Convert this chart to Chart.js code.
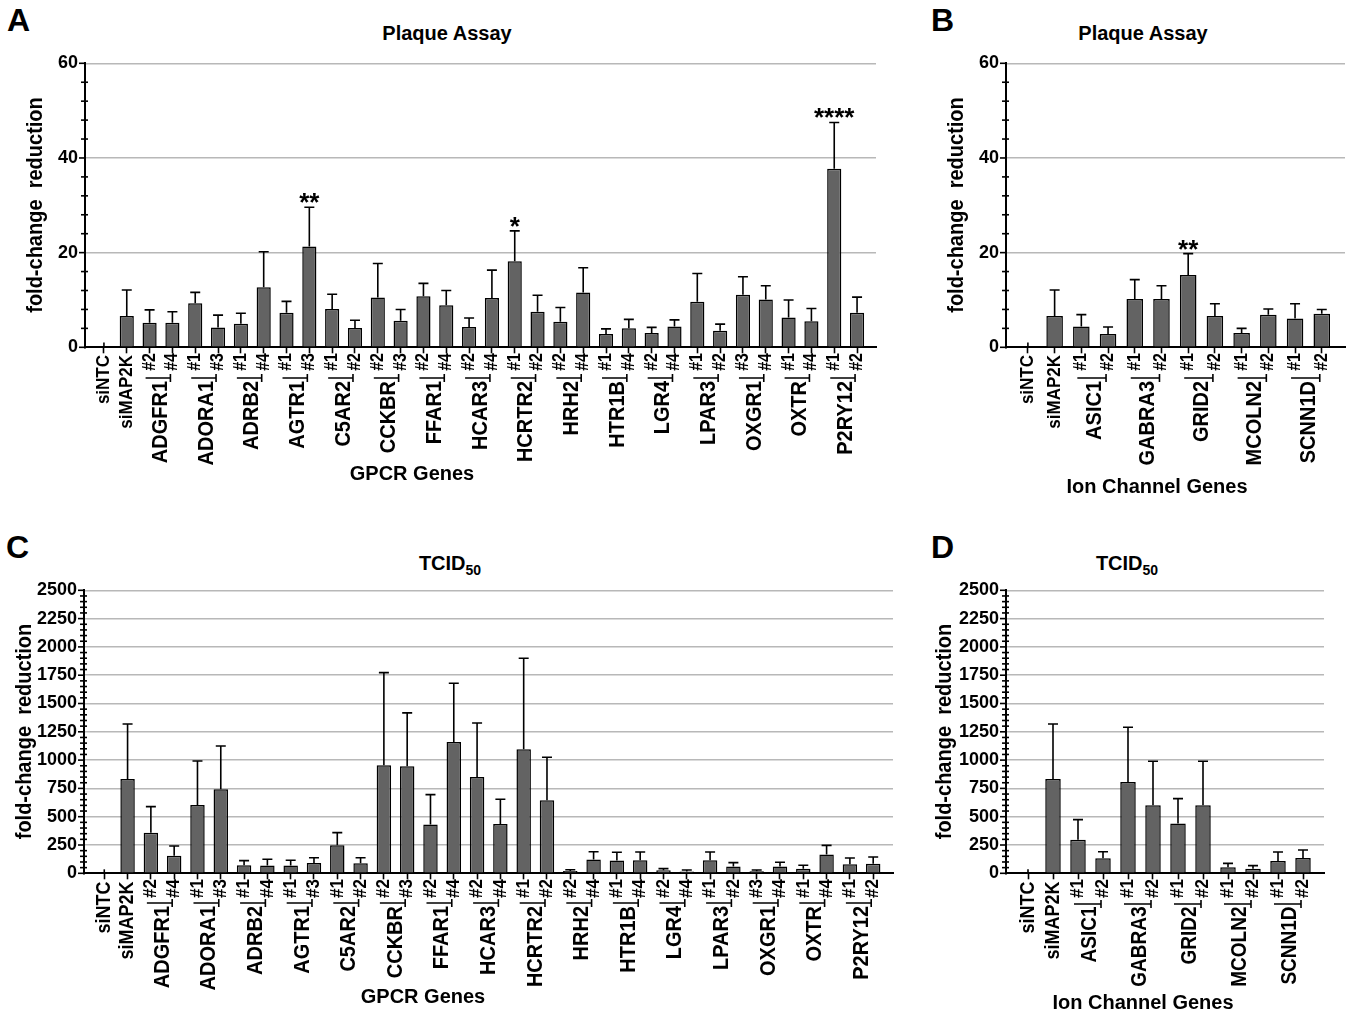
<!DOCTYPE html>
<html>
<head>
<meta charset="utf-8">
<script src="https://cdn.jsdelivr.net/npm/chart.js@4.4.1/dist/chart.umd.min.js"></script>
<style>
  body { margin: 0; background: #fff; width: 1357px; height: 1025px; position: relative; overflow: hidden;
         font-family: "Liberation Sans", Arial, sans-serif; color: #000; }
  .box { position: absolute; }
  .letter { position: absolute; font-weight: bold; font-size: 32px; line-height: 32px; }
  .title { position: absolute; font-weight: bold; font-size: 20px; line-height: 20px; transform: translateX(-50%); white-space: nowrap; }
  .title sub { font-size: 14px; vertical-align: -5px; line-height: 0; }
</style>
</head>
<body>
<div class="letter" style="left:7px;top:4px">A</div>
<div class="letter" style="left:931px;top:4px">B</div>
<div class="letter" style="left:6px;top:531px">C</div>
<div class="letter" style="left:931px;top:531px">D</div>
<div class="title" style="left:447px;top:23px">Plaque Assay</div>
<div class="title" style="left:1143px;top:23px">Plaque Assay</div>
<div class="title" style="left:450px;top:553px">TCID<sub>50</sub></div>
<div class="title" style="left:1127px;top:553px">TCID<sub>50</sub></div>

<div class="box" style="left:0;top:0"><canvas id="chartA" width="900" height="500"></canvas></div>
<div class="box" style="left:900px;top:0"><canvas id="chartB" width="457" height="500"></canvas></div>
<div class="box" style="left:0;top:520px"><canvas id="chartC" width="900" height="505"></canvas></div>
<div class="box" style="left:900px;top:520px"><canvas id="chartD" width="457" height="505"></canvas></div>

<script>
// x categories
const controls = ['siNTC', 'siMAP2K'];
const gpcrGenes = ['ADGFR1', 'ADORA1', 'ADRB2', 'AGTR1', 'C5AR2', 'CCKBR', 'FFAR1', 'HCAR3',
                   'HCRTR2', 'HRH2', 'HTR1B', 'LGR4', 'LPAR3', 'OXGR1', 'OXTR', 'P2RY12'];
const gpcrSiRNAs = ['#2', '#4', '#1', '#3', '#1', '#4', '#1', '#3', '#1', '#2', '#2', '#3', '#2', '#4', '#2', '#4',
                    '#1', '#2', '#2', '#4', '#1', '#4', '#2', '#4', '#1', '#2', '#3', '#4', '#1', '#4', '#1', '#2'];
const ionGenes = ['ASIC1', 'GABRA3', 'GRID2', 'MCOLN2', 'SCNN1D'];
const ionSiRNAs = ['#1', '#2', '#1', '#2', '#1', '#2', '#1', '#2', '#1', '#2'];

// A: plaque assay, GPCR genes (mean, SD)
const plaqueGpcrMean = [0, 6.6, 5.2, 5.2, 9.3, 4.2, 5.0, 12.7, 7.3, 21.3, 8.1, 4.1, 10.5, 5.6, 10.8, 8.9, 4.3, 10.4,
                        18.2, 7.5, 5.4, 11.6, 2.8, 4.0, 3.0, 4.4, 9.6, 3.5, 11.1, 10.1, 6.3, 5.5, 37.7, 7.3];
const plaqueGpcrSd = [1.0, 5.5, 2.7, 2.3, 2.3, 2.6, 2.2, 7.5, 2.4, 8.3, 3.1, 1.6, 7.2, 2.4, 2.7, 3.1, 1.9, 5.9,
                      6.4, 3.5, 3.0, 5.2, 1.1, 1.9, 1.2, 1.4, 6.0, 1.4, 3.8, 2.9, 3.7, 2.7, 9.8, 3.3];
const plaqueGpcrStars = ['', '', '', '', '', '', '', '', '', '**', '', '', '', '', '', '', '', '',
                         '*', '', '', '', '', '', '', '', '', '', '', '', '', '', '****', ''];

// B: plaque assay, ion channel genes
const plaqueIonMean = [0, 6.6, 4.4, 2.8, 10.2, 10.2, 15.3, 6.6, 3.0, 6.9, 6.1, 7.1];
const plaqueIonSd = [1.0, 5.5, 2.5, 1.5, 4.1, 2.8, 4.5, 2.6, 1.0, 1.2, 3.1, 0.9];
const plaqueIonStars = ['', '', '', '', '', '', '**', '', '', '', '', ''];

// C: TCID50, GPCR genes
const tcidGpcrMean = [0, 833, 359, 156, 604, 742, 71, 68, 68, 91, 247, 88, 954, 945, 430, 1160, 851, 436,
                      1096, 645, 21, 121, 112, 115, 27, 15, 115, 59, 18, 59, 41, 165, 80, 85];
const tcidGpcrSd = [35, 486, 230, 85, 388, 383, 41, 56, 47, 47, 112, 50, 819, 472, 265, 519, 477, 218,
                    804, 380, 11, 70, 74, 73, 14, 14, 73, 35, 11, 38, 30, 82, 55, 59];

// D: TCID50, ion channel genes
const tcidIonMean = [0, 833, 297, 133, 807, 601, 439, 601, 53, 41, 109, 135];
const tcidIonSd = [35, 486, 177, 58, 483, 389, 221, 389, 35, 27, 79, 71];

// y axes: max, labelled step, minor tick step
const plaqueAxis = [60, 20, 4];
const tcidAxis = [2500, 250, 50];

const FONT = "'Liberation Sans', Arial, sans-serif";
const WIDEN = 1.12; // the figure's vertical labels are drawn a bit heavier

function drawRotated(ctx, text, x, yTop, size) {
    ctx.save();
    ctx.translate(x, yTop);
    ctx.scale(WIDEN, 1);
    ctx.rotate(-Math.PI / 2);
    ctx.font = 'bold ' + size + 'px ' + FONT;
    ctx.textAlign = 'right';
    ctx.textBaseline = 'middle';
    ctx.fillText(text, 0, 0);
    ctx.restore();
}

const figureExtras = {
    id: 'figureExtras',
    afterDatasetsDraw(chart, args, o) {
        const ctx = chart.ctx, xs = chart.scales.x, ys = chart.scales.y;
        ctx.save();
        ctx.strokeStyle = '#000';
        ctx.fillStyle = '#000';
        ctx.lineWidth = 1.6;
        o.means.forEach((m, i) => {
            const x = xs.getPixelForValue(i);
            const y0 = ys.getPixelForValue(m);
            const y1 = ys.getPixelForValue(m + o.sds[i]);
            ctx.beginPath();
            ctx.moveTo(x, y0);
            ctx.lineTo(x, y1);
            if (m > 0) {
                ctx.moveTo(x - 5, y1);
                ctx.lineTo(x + 5, y1);
            }
            ctx.stroke();
            if (o.stars && o.stars[i]) {
                ctx.font = 'bold 26px ' + FONT;
                ctx.textAlign = 'center';
                ctx.textBaseline = 'alphabetic';
                const m2 = ctx.measureText(o.stars[i]);
                // keep a 4px gap between the asterisks and the cap
                ctx.fillText(o.stars[i], x, y1 - 4 - m2.actualBoundingBoxDescent);
            }
        });
        ctx.restore();
    },
    afterDraw(chart, args, o) {
        const ctx = chart.ctx, xs = chart.scales.x, ys = chart.scales.y;
        const axisX = chart.chartArea.left;
        ctx.save();
        ctx.strokeStyle = '#000';
        ctx.fillStyle = '#000';
        ctx.lineWidth = 1.6;

        // y tick marks: long outside for labelled values, short crossing for minor ones
        ys.ticks.forEach(t => {
            const y = ys.getPixelForValue(t.value);
            ctx.beginPath();
            if (t.value % o.major === 0) {
                ctx.moveTo(axisX - 6, y);
                ctx.lineTo(axisX, y);
            } else {
                ctx.moveTo(axisX - 4, y);
                ctx.lineTo(axisX + 3, y);
            }
            ctx.stroke();
        });

        // x labels
        const nc = controls.length;
        controls.forEach((c, i) => drawRotated(ctx, c, xs.getPixelForValue(i), o.ctrlTop, o.ctrlSize));
        o.siRNAs.forEach((s, k) => drawRotated(ctx, s, xs.getPixelForValue(nc + k), o.subTop, o.subSize));
        o.genes.forEach((g, k) => {
            const x1 = xs.getPixelForValue(nc + 2 * k);
            const x2 = xs.getPixelForValue(nc + 2 * k + 1);
            ctx.beginPath();
            ctx.moveTo(x1 - 4, o.lineY);
            ctx.lineTo(x2 - 2, o.lineY);
            ctx.moveTo(x2 - 2, o.lineY - 4);
            ctx.lineTo(x2 - 2, o.lineY + 4);
            ctx.stroke();
            drawRotated(ctx, g, (x1 + x2) / 2, o.geneTop, o.geneSize);
        });

        // axis titles
        ctx.font = 'bold 20px ' + FONT;
        ctx.textAlign = 'center';
        ctx.textBaseline = 'alphabetic';
        ctx.fillText(o.xTitle, o.xTitleX, o.xTitleY);
        ctx.save();
        ctx.translate(o.yTitleX, o.yTitleY);
        ctx.scale(WIDEN, 1);
        ctx.rotate(-Math.PI / 2);
        ctx.textBaseline = 'middle';
        ctx.fillText('fold-change  reduction', 0, 0);
        ctx.restore();
        ctx.restore();
    }
};

function buildPanel(id, p) {
    const canvas = document.getElementById(id);
    const W = canvas.width, H = canvas.height;
    const [yMax, major, minor] = p.axis;
    return new Chart(canvas, {
        type: 'bar',
        data: {
            datasets: [{
                data: p.means.map((v, i) => ({ x: i, y: v })),
                backgroundColor: '#636363',
                borderColor: '#000',
                borderWidth: 1.5,
                borderSkipped: 'bottom',
                barPercentage: 0.62,
                categoryPercentage: 1
            }]
        },
        options: {
            responsive: false,
            animation: false,
            devicePixelRatio: 1,
            layout: { padding: { left: 0, top: p.area[2], right: W - p.area[1], bottom: 0 } },
            plugins: {
                legend: { display: false },
                tooltip: { enabled: false },
                figureExtras: {
                    means: p.means, sds: p.sds, stars: p.stars, major: major,
                    siRNAs: p.siRNAs, genes: p.genes,
                    ctrlTop: p.ctrlTop, subTop: p.subTop, lineY: p.lineY, geneTop: p.geneTop,
                    ctrlSize: p.ctrlSize, subSize: p.subSize, geneSize: p.geneSize,
                    xTitle: p.xTitle, xTitleX: p.xTitleX, xTitleY: p.xTitleY,
                    yTitleX: p.yTitleX, yTitleY: p.yTitleY
                }
            },
            scales: {
                x: {
                    type: 'linear',
                    min: p.xRange[0],
                    max: p.xRange[1],
                    offset: false,
                    afterBuildTicks: s => { s.ticks = p.means.map((_, i) => ({ value: i })); },
                    afterFit: s => { s.height = H - p.area[3]; },
                    ticks: { display: false },
                    grid: { offset: false, drawOnChartArea: false, drawTicks: true, tickLength: 6,
                            tickColor: '#000', tickWidth: 1.6, color: 'rgba(0,0,0,0)' },
                    border: { display: true, color: '#000', width: 2 }
                },
                y: {
                    min: 0,
                    max: yMax,
                    afterFit: s => { s.width = p.area[0]; },
                    ticks: {
                        stepSize: minor,
                        autoSkip: false,
                        padding: 7,
                        color: '#000',
                        font: { family: FONT, size: 18, weight: 'bold' },
                        callback: v => (v % major === 0 ? String(v) : '')
                    },
                    grid: {
                        drawTicks: false,
                        lineWidth: 1.5,
                        color: c => (c.tick && c.tick.value > 0 && c.tick.value % major === 0 ? '#b8b8b8' : 'rgba(0,0,0,0)')
                    },
                    border: { display: true, color: '#000', width: 2 }
                }
            }
        },
        plugins: [figureExtras]
    });
}

// area = [left, right, top, bottom] in canvas pixels
buildPanel('chartA', {
    means: plaqueGpcrMean, sds: plaqueGpcrSd, stars: plaqueGpcrStars, axis: plaqueAxis,
    siRNAs: gpcrSiRNAs, genes: gpcrGenes,
    area: [85, 876, 63.3, 347.3], xRange: [-0.83, 33.83],
    ctrlTop: 355, subTop: 353, lineY: 378, geneTop: 381, ctrlSize: 17, subSize: 16, geneSize: 20,
    xTitle: 'GPCR Genes', xTitleX: 412, xTitleY: 480, yTitleX: 36, yTitleY: 205
});
buildPanel('chartB', {
    means: plaqueIonMean, sds: plaqueIonSd, stars: plaqueIonStars, axis: plaqueAxis,
    siRNAs: ionSiRNAs, genes: ionGenes,
    area: [106, 445, 63.3, 347.3], xRange: [-0.82, 11.87],
    ctrlTop: 355, subTop: 353, lineY: 378, geneTop: 381, ctrlSize: 17, subSize: 16, geneSize: 20,
    xTitle: 'Ion Channel Genes', xTitleX: 257, xTitleY: 493, yTitleX: 57, yTitleY: 205
});
buildPanel('chartC', {
    means: tcidGpcrMean, sds: tcidGpcrSd, stars: null, axis: tcidAxis,
    siRNAs: gpcrSiRNAs, genes: gpcrGenes,
    area: [84, 893, 70.3, 353.3], xRange: [-0.87, 33.85],
    ctrlTop: 361.5, subTop: 359, lineY: 383, geneTop: 386, ctrlSize: 18, subSize: 17, geneSize: 20,
    xTitle: 'GPCR Genes', xTitleX: 423, xTitleY: 483, yTitleX: 25, yTitleY: 211.5
});
buildPanel('chartD', {
    means: tcidIonMean, sds: tcidIonSd, stars: null, axis: tcidAxis,
    siRNAs: ionSiRNAs, genes: ionGenes,
    area: [106, 424, 70.3, 353.3], xRange: [-0.88, 11.84],
    ctrlTop: 361.5, subTop: 359, lineY: 384, geneTop: 386.5, ctrlSize: 18, subSize: 17, geneSize: 19,
    xTitle: 'Ion Channel Genes', xTitleX: 243, xTitleY: 489, yTitleX: 44.5, yTitleY: 211.5
});
</script>
</body>
</html>
